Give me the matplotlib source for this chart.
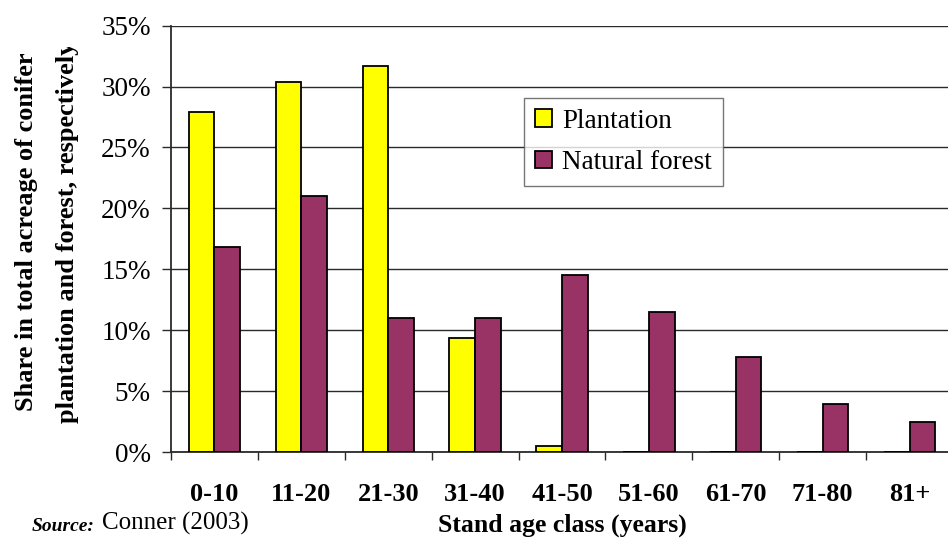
import matplotlib
matplotlib.use("Agg")
import matplotlib.pyplot as plt
from matplotlib.transforms import Bbox
from matplotlib.ticker import FixedLocator, FuncFormatter
import numpy as np

# Share of total acreage (%) by stand age class
age_classes = ["0-10", "11-20", "21-30", "31-40", "41-50", "51-60", "61-70", "71-80", "81+"]
plantation = [27.9, 30.4, 31.7, 9.4, 0.5, 0, 0, 0, 0]
natural_forest = [16.8, 21.0, 11.0, 11.0, 14.5, 11.5, 7.8, 3.9, 2.5]
y_ticks = [0, 5, 10, 15, 20, 25, 30, 35]

plt.rcParams["font.family"] = ["Liberation Serif", "DejaVu Serif"]

W, H = 948, 539
fig = plt.figure(figsize=(W / 100, H / 100), dpi=100)
ax = fig.add_axes([171 / W, (H - 452) / H, 782 / W, 426.3 / H])

x = np.arange(len(age_classes))
bw = 0.295
ax.bar(x - bw / 2, plantation, bw, color="#FFFF00", edgecolor="black",
       linewidth=1.3, label="Plantation", zorder=3)
ax.bar(x + bw / 2, natural_forest, bw, color="#993366", edgecolor="black",
       linewidth=1.3, label="Natural forest", zorder=3)

ax.set_xlim(-0.5, len(age_classes) - 0.5)
ax.set_ylim(0, 35)
ax.set_yticks(y_ticks)
ax.yaxis.set_major_formatter(FuncFormatter(lambda v, _: f"{v:.0f}%"))
ax.grid(axis="y", color="#2a2a2a", linewidth=1.0, zorder=0)
ax.set_axisbelow(True)

ax.set_xticks(x)
ax.set_xticklabels(age_classes, fontsize=19, fontweight="bold")
ax.xaxis.set_minor_locator(FixedLocator(np.arange(-0.5, len(age_classes), 1.0)))
ax.tick_params(axis="x", which="major", length=0, pad=22)
ax.tick_params(axis="x", which="minor", length=6, width=1.0, color="#2a2a2a", direction="out")
ax.tick_params(axis="y", which="major", length=6.5, width=1.0, color="#2a2a2a",
               direction="out", labelsize=19.5, pad=8)

for s in ("top", "right"):
    ax.spines[s].set_visible(False)
for s in ("left", "bottom"):
    ax.spines[s].set_color("#2a2a2a")
    ax.spines[s].set_linewidth(1.3)

leg = ax.legend(loc="upper left", bbox_to_anchor=((524 - 171) / 782, (452 - 98) / 426.3),
                frameon=True, fancybox=False, fontsize=19.5, handlelength=0.63,
                handleheight=0.63, handletextpad=0.38, borderpad=0.4,
                labelspacing=0.6, borderaxespad=0)
leg.get_frame().set_edgecolor("#555555")
leg.get_frame().set_linewidth(1.0)

fig.text(562 / W, 2 / H, "Stand age class (years)", ha="center", va="bottom",
         fontsize=18.5, fontweight="bold")

fig.text(32 / W, 4 / H, "Source:", ha="left", va="bottom", fontsize=14,
         fontweight="bold", style="italic")
fig.text(102 / W, 4 / H, "Conner (2003)", ha="left", va="bottom", fontsize=18)

ylab = fig.text(47 / W, (H - 232) / H,
                "Share in total acreage of conifer\nplantation and forest, respectively",
                rotation=90, ha="center", va="center", multialignment="center",
                fontsize=19, fontweight="bold", linespacing=1.95)
ylab.set_clip_box(Bbox.from_extents(0, 0, W, H - 47))
ylab.set_clip_on(True)

fig.savefig("out.png", dpi=100)
